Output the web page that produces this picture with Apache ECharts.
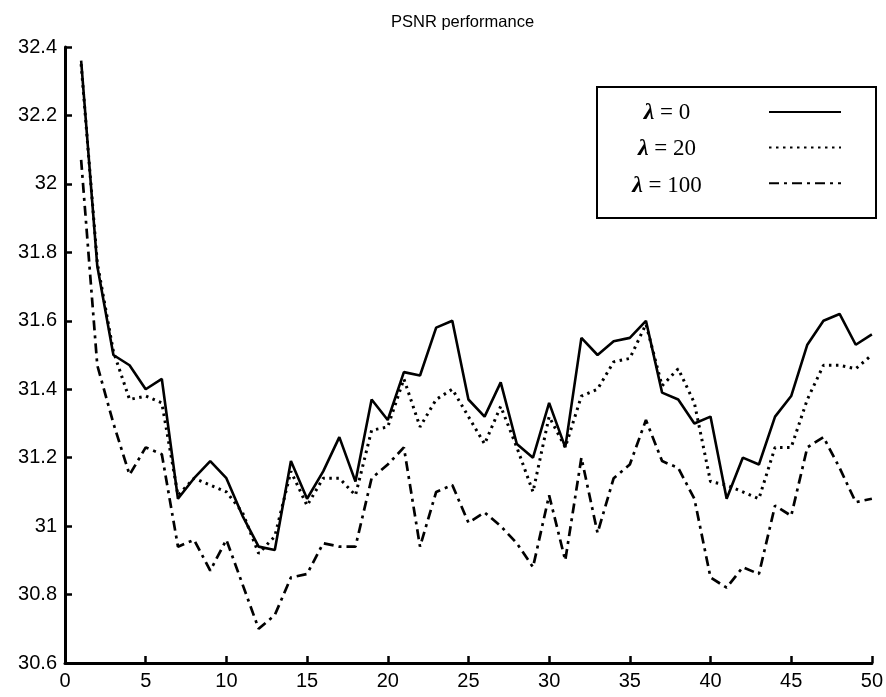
<!DOCTYPE html>
<html>
<head>
<meta charset="utf-8">
<script src="https://cdn.jsdelivr.net/npm/echarts@6/dist/echarts.min.js"></script>
<style>html,body{margin:0;padding:0;background:#fff}#c{width:886px;height:697px}</style>
</head>
<body>
<div id="c"></div>
<script>
const iterations = [1,2,3,4,5,6,7,8,9,10,11,12,13,14,15,16,17,18,19,20,21,22,23,24,25,26,27,28,29,30,31,32,33,34,35,36,37,38,39,40,41,42,43,44,45,46,47,48,49,50];
const lambda0 = [32.36,31.76,31.50,31.47,31.40,31.43,31.08,31.14,31.19,31.14,31.03,30.94,30.93,31.19,31.08,31.16,31.26,31.13,31.37,31.31,31.45,31.44,31.58,31.60,31.37,31.32,31.42,31.24,31.20,31.36,31.23,31.55,31.50,31.54,31.55,31.60,31.39,31.37,31.30,31.32,31.08,31.20,31.18,31.32,31.38,31.53,31.60,31.62,31.53,31.56];
const lambda20 = [32.35,31.77,31.51,31.37,31.38,31.36,31.09,31.14,31.12,31.10,31.04,30.92,30.97,31.16,31.06,31.14,31.14,31.09,31.28,31.29,31.43,31.29,31.37,31.40,31.32,31.24,31.35,31.23,31.10,31.32,31.23,31.38,31.40,31.48,31.49,31.59,31.41,31.46,31.36,31.13,31.12,31.10,31.08,31.23,31.23,31.37,31.47,31.47,31.46,31.50];
const lambda100 = [32.07,31.47,31.30,31.15,31.23,31.21,30.94,30.96,30.87,30.96,30.83,30.70,30.74,30.85,30.86,30.95,30.94,30.94,31.14,31.18,31.23,30.94,31.10,31.12,31.01,31.04,31.00,30.95,30.88,31.09,30.90,31.20,30.98,31.14,31.18,31.31,31.19,31.17,31.08,30.85,30.82,30.88,30.86,31.06,31.03,31.23,31.26,31.17,31.07,31.08];
const lambdaValues = ['0','20','100'];
const seriesNames = ['λ = 0','λ = 20','λ = 100'];
const xTicks = {min:0, max:50, interval:5};
const yTicks = {min:30.6, max:32.4, interval:0.2};

const chart = echarts.init(document.getElementById('c'));
const zip = arr => iterations.map((x,i)=>[x,arr[i]]);
const axisCommon = {
  axisLine:{show:true, onZero:false, lineStyle:{color:'#000', width:3}},
  axisTick:{show:true, inside:true, length:7, lineStyle:{color:'#000', width:2.5}},
  axisLabel:{color:'#000', fontFamily:'Liberation Sans, Arial', fontSize:20},
  splitLine:{show:false}
};
const legendTexts = lambdaValues.map((v,i)=>({
  type:'text', left:'auto', x:667, y:[113,149,186][i], z:10,
  style:{
    text:'{l|λ} = ' + v, x:0, y:0, align:'center', verticalAlign:'middle',
    fill:'#000', font:'23px "Liberation Serif", "Times New Roman", serif',
    rich:{l:{fontStyle:'italic', fontFamily:'Liberation Serif', fontSize:24, fill:'#000', fontWeight:'bold'}}
  }
}));
chart.setOption({
  animation:false,
  backgroundColor:'#fff',
  title:{text:'PSNR performance', left:386, top:9,
    textStyle:{fontFamily:'Liberation Sans, Arial', fontSize:16.5, fontWeight:'normal', color:'#000'}},
  grid:{left:65, right:14, top:47, bottom:34, containLabel:false},
  graphic:[
    {type:'rect', shape:{x:597, y:87, width:279, height:131}, style:{fill:'#fff', stroke:'#000', lineWidth:2}, z:1}
  ].concat(legendTexts),
  legend:{
    orient:'vertical', left:768, top:105, padding:0,
    itemGap:23, itemWidth:72, itemHeight:14, z:10,
    data:seriesNames,
    itemStyle:{opacity:0},
    formatter: () => '',
    textStyle:{color:'#000'}
  },
  xAxis:Object.assign({type:'value', min:xTicks.min, max:xTicks.max, interval:xTicks.interval}, axisCommon,
    {axisLabel:Object.assign({}, axisCommon.axisLabel, {margin:8})}),
  yAxis:Object.assign({type:'value', min:yTicks.min, max:yTicks.max, interval:yTicks.interval}, axisCommon,
    {axisLabel:Object.assign({}, axisCommon.axisLabel, {margin:8, formatter:v=>String(+v.toFixed(1))})}),
  series:[
    {name:seriesNames[0], type:'line', data:zip(lambda0), symbol:'none', lineStyle:{color:'#000', width:2.6, type:'solid'}, itemStyle:{color:'#000'}},
    {name:seriesNames[1], type:'line', data:zip(lambda20), symbol:'none', lineStyle:{color:'#000', width:3, type:[2.5,4.5]}, itemStyle:{color:'#000'}},
    {name:seriesNames[2], type:'line', data:zip(lambda100), symbol:'none', lineStyle:{color:'#000', width:2.7, type:[10,5,3,5]}, itemStyle:{color:'#000'}}
  ]
});
</script>
</body>
</html>
